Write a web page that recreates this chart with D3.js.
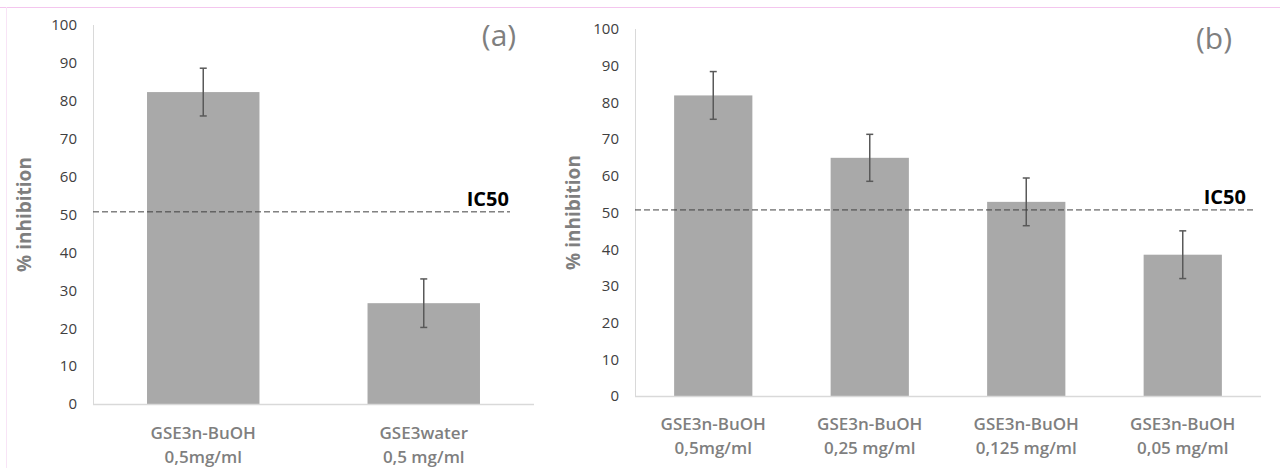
<!DOCTYPE html>
<html>
<head>
<meta charset="utf-8">
<script src="https://cdn.jsdelivr.net/npm/d3@7"></script>
<style>
  body { margin: 0; background: #fff; }
  text { font-family: "Open Sans", "Noto Sans", sans-serif; }
</style>
</head>
<body>
<div id="chart"></div>
<script>
// data
var catsA = ["GSE3n-BuOH|0,5mg/ml", "GSE3water|0,5 mg/ml"];
var valsA = [82.3, 26.6];
var errA = [6.3, 6.4];

var catsB = ["GSE3n-BuOH|0,5mg/ml", "GSE3n-BuOH|0,25 mg/ml", "GSE3n-BuOH|0,125 mg/ml", "GSE3n-BuOH|0,05 mg/ml"];
var valsB = [81.9, 64.9, 52.9, 38.5];
var errB = [6.5, 6.4, 6.5, 6.5];

var yTicks = [0, 10, 20, 30, 40, 50, 60, 70, 80, 90, 100];
var ic50 = 50.7;

var svg = d3.select("#chart")
  .append("svg")
  .attr("width", 1280)
  .attr("height", 468);

// frame lines
svg.append("line").attr("x1", 0).attr("x2", 1280).attr("y1", 7.5).attr("y2", 7.5)
  .attr("stroke", "#f4c6ee").attr("stroke-width", 1);
svg.append("line").attr("x1", 6.5).attr("x2", 6.5).attr("y1", 7).attr("y2", 468)
  .attr("stroke", "#f8e4f6").attr("stroke-width", 1);

function drawPanel(cfg) {
  var g = svg.append("g");

  var x = d3.scaleBand()
    .domain(cfg.cats)
    .range([cfg.left, cfg.right])
    .paddingInner(cfg.pad)
    .paddingOuter(cfg.pad / 2);

  var y = d3.scaleLinear()
    .domain([0, 100])
    .range([cfg.bottom, cfg.top]);

  // y axis line
  g.append("line")
    .attr("x1", cfg.left + 0.5).attr("x2", cfg.left + 0.5)
    .attr("y1", y(100)).attr("y2", y(0))
    .attr("stroke", "#d9d9d9");

  var yAxis = d3.axisLeft(y).tickValues(yTicks).tickSize(0).tickPadding(16);
  var ya = g.append("g")
    .attr("transform", `translate(${cfg.left},0)`)
    .call(yAxis);
  ya.select(".domain").remove();
  ya.selectAll("text")
    .attr("fill", "#404040")
    .style("font-size", "15px")
    .style("font-family", "'Open Sans', sans-serif");

  // bars
  g.selectAll("rect.bar")
    .data(cfg.vals)
    .enter()
    .append("rect")
    .attr("class", "bar")
    .attr("x", (d, i) => x(cfg.cats[i]))
    .attr("width", x.bandwidth())
    .attr("y", d => y(d))
    .attr("height", d => y(0) - y(d))
    .attr("fill", "#a9a9a9");

  // x axis line
  g.append("line")
    .attr("x1", cfg.left).attr("x2", cfg.right)
    .attr("y1", y(0) + 0.5).attr("y2", y(0) + 0.5)
    .attr("stroke", "#d9d9d9").attr("stroke-width", 1.5);

  // error bars
  cfg.vals.forEach(function(v, i) {
    var cx = x(cfg.cats[i]) + x.bandwidth() / 2;
    var e = cfg.errs[i];
    g.append("line")
      .attr("x1", cx).attr("x2", cx)
      .attr("y1", y(v + e)).attr("y2", y(v - e))
      .attr("stroke", "#595959").attr("stroke-width", 1.5);
    [v + e, v - e].forEach(function(t) {
      g.append("line")
        .attr("x1", cx - 3.5).attr("x2", cx + 3.5)
        .attr("y1", y(t)).attr("y2", y(t))
        .attr("stroke", "#595959").attr("stroke-width", 1.5);
    });
  });

  // IC50 line
  g.append("line")
    .attr("x1", cfg.left).attr("x2", cfg.icEnd)
    .attr("y1", y(ic50)).attr("y2", y(ic50))
    .attr("stroke", "#404040").attr("stroke-width", 1)
    .attr("stroke-dasharray", "6,3");
  g.append("text")
    .attr("x", cfg.icLabelX)
    .attr("y", y(ic50) - 6)
    .attr("text-anchor", "end")
    .attr("fill", "#000")
    .style("font-size", "20px")
    .style("font-weight", "bold")
    .text("IC50");

  // category labels
  cfg.cats.forEach(function(c, i) {
    var cx = x(c) + x.bandwidth() / 2;
    var parts = c.split("|");
    parts.forEach(function(p, j) {
      g.append("text")
        .attr("x", cx)
        .attr("y", cfg.labelY + j * 24)
        .attr("text-anchor", "middle")
        .attr("fill", "#7f7f7f")
        .style("font-size", "17px")
        .style("font-weight", "600")
        .text(p);
    });
  });

  // y axis title
  g.append("text")
    .attr("transform", `translate(${cfg.titleX}, ${(y(0) + y(100)) / 2}) rotate(-90)`)
    .attr("text-anchor", "middle")
    .attr("fill", "#7f7f7f")
    .style("font-size", "19px")
    .style("font-weight", "bold")
    .text("% inhibition");

  // panel tag
  g.append("text")
    .attr("x", cfg.tagX)
    .attr("y", cfg.tagY)
    .attr("text-anchor", "middle")
    .attr("fill", "#7f7f7f")
    .style("font-size", "30px")
    .text(cfg.tag);
}

drawPanel({
  cats: catsA, vals: valsA, errs: errA, pad: 0.49,
  left: 93, right: 534, top: 25, bottom: 404,
  icEnd: 510, icLabelX: 509, labelY: 439, titleX: 31,
  tag: "(a)", tagX: 499, tagY: 46
});

drawPanel({
  cats: catsB, vals: valsB, errs: errB, pad: 0.5,
  left: 635, right: 1261, top: 29, bottom: 396,
  icEnd: 1255, icLabelX: 1246, labelY: 430, titleX: 580,
  tag: "(b)", tagX: 1214, tagY: 49
});
</script>
</body>
</html>
